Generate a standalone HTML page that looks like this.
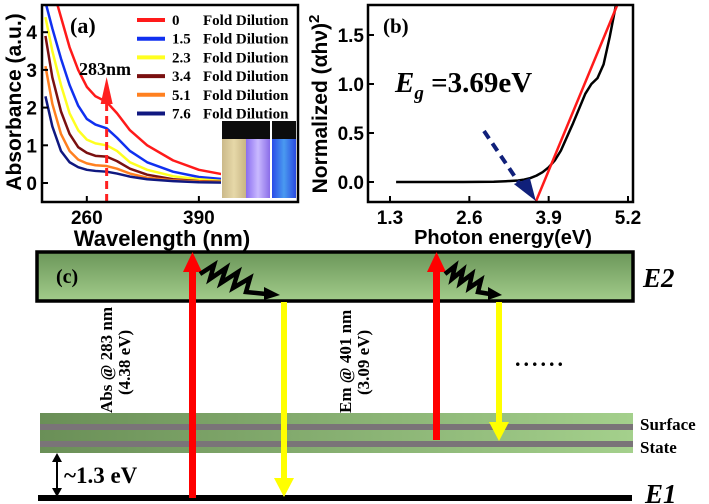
<!DOCTYPE html>
<html><head><meta charset="utf-8"><style>
body{margin:0;background:#fff;}
svg{display:block;font-family:"Liberation Sans",sans-serif;}
.serif{font-family:"Liberation Serif",serif;font-weight:bold;}
</style></head><body>
<svg id="fig" width="709" height="504" viewBox="0 0 709 504">
<defs>
<linearGradient id="gE2" x1="0" y1="0" x2="0" y2="1"><stop offset="0" stop-color="#6b9659"/><stop offset="1" stop-color="#a2cc8a"/></linearGradient>
<linearGradient id="gS" x1="0" y1="0" x2="1" y2="0"><stop offset="0" stop-color="#6a8f57"/><stop offset="1" stop-color="#a4d08c"/></linearGradient>
<linearGradient id="v1" x1="0" y1="0" x2="1" y2="0"><stop offset="0" stop-color="#cbb98a"/><stop offset="0.5" stop-color="#e6d8a8"/><stop offset="1" stop-color="#c8b585"/></linearGradient>
<linearGradient id="v2" x1="0" y1="0" x2="1" y2="0"><stop offset="0" stop-color="#8a6df0"/><stop offset="0.5" stop-color="#c9b9ff"/><stop offset="1" stop-color="#8a6de8"/></linearGradient>
<linearGradient id="v3" x1="0" y1="0" x2="1" y2="0"><stop offset="0" stop-color="#2a4be8"/><stop offset="0.5" stop-color="#4a9af0"/><stop offset="1" stop-color="#2a4ae0"/></linearGradient>
<clipPath id="clipA"><rect x="42" y="5" width="256" height="197"/></clipPath>
<clipPath id="clipB"><rect x="368" y="5" width="265" height="197"/></clipPath>
</defs>
<g id="panelA"></g>
<g id="panelB"></g>
<g id="panelC">
  <rect x="37" y="252" width="596" height="49" fill="url(#gE2)" stroke="#000" stroke-width="3.5"/>
  <text x="56" y="283" class="serif" font-size="20">(c)</text>
  <text x="643" y="287" class="serif" font-size="27" font-style="italic">E2</text>
  <rect x="40" y="413" width="593" height="40" fill="url(#gS)"/>
  <rect x="40" y="424" width="593" height="6" fill="#7a7478"/>
  <rect x="40" y="441" width="593" height="6" fill="#7a7478"/>
  <text x="640" y="430" class="serif" font-size="17">Surface</text>
  <text x="640" y="453" class="serif" font-size="17">State</text>
  <rect x="38" y="495" width="594" height="6" fill="#000"/>
  <text x="645" y="503" class="serif" font-size="27" font-style="italic">E1</text>
  <g>
    <line x1="57" y1="460" x2="57" y2="490" stroke="#000" stroke-width="2"/>
    <polygon points="52,462 62,462 57,453" fill="#000"/><polygon points="52,488 62,488 57,497" fill="#000"/>
  </g>
  <text x="64" y="483" class="serif" font-size="23">~1.3  eV</text>
  <g><rect x="189" y="270" width="7" height="228" fill="#ff0000"/><polygon points="183,272 202,272 192.5,252" fill="#ff0000"/></g>
  <g><rect x="433" y="270" width="7" height="170" fill="#ff0000"/><polygon points="427,272 446,272 436.5,252" fill="#ff0000"/></g>
  <g><rect x="281" y="302" width="6" height="178" fill="#ffff00"/><polygon points="274,478 294,478 284,497" fill="#ffff00"/></g>
  <g><rect x="496" y="302" width="6" height="122" fill="#ffff00"/><polygon points="489,422 509,422 499,441" fill="#ffff00"/></g>
  <g>
    <polyline points="200,274 214,265 210,279 226,268 221,283 238,272 233,288 250,278 246,292 266,294" fill="none" stroke="#000" stroke-width="4.5"/>
    <polygon points="264,287 280,295 264,300" fill="#000"/></g>
  <g>
    <polyline points="445,274 455,266 452,279 463,270 460,283 472,274 469,288 481,280 478,292 490,294" fill="none" stroke="#000" stroke-width="4.5"/>
    <polygon points="488,287 502,295 488,300" fill="#000"/></g>
  <text transform="translate(112,413) rotate(-90)" class="serif" font-size="17">Abs @ 283 nm</text>
  <text transform="translate(130,395) rotate(-90)" class="serif" font-size="17">(4.38 eV)</text>
  <text transform="translate(351,413) rotate(-90)" class="serif" font-size="17">Em @ 401 nm</text>
  <text transform="translate(369,395) rotate(-90)" class="serif" font-size="17">(3.09 eV)</text>
  <text x="515" y="366" class="serif" font-size="22" letter-spacing="3">......</text>
</g>
</svg>
<script>
// ---- Panel (a) data ----
const wavelengths = [212,220,230,240,250,260,270,283,295,310,330,360,390,420,460,500];
const absRed    = [6.0,5.2,4.4,3.6,3.0,2.55,2.3,2.15,1.85,1.4,1.0,0.6,0.35,0.22,0.12,0.08];
const absBlue   = [4.8,4.1,3.3,2.6,2.05,1.7,1.55,1.45,1.2,0.85,0.55,0.3,0.16,0.1,0.05,0.03];
const absYellow = [4.4,3.5,2.6,1.85,1.4,1.15,1.05,1.0,0.85,0.55,0.35,0.18,0.1,0.05,0.03,0.02];
const absBrown  = [3.9,2.8,1.9,1.3,0.95,0.8,0.72,0.7,0.58,0.38,0.22,0.1,0.05,0.03,0.02,0.01];
const absOrange = [3.1,2.1,1.3,0.85,0.62,0.52,0.47,0.45,0.38,0.25,0.14,0.07,0.04,0.02,0.01,0.01];
const absNavy   = [2.3,1.5,0.85,0.55,0.42,0.35,0.32,0.3,0.25,0.17,0.1,0.05,0.02,0.01,0.0,0.0];
const dilutionLabels = ["0","1.5","2.3","3.4","5.1","7.6"];
const aXTicks = [260,390];
const aYTicks = [0,1,2,3,4];
const peakWavelength = 283;
// ---- Panel (b) data ----
const energies = [1.4,2.0,2.5,3.0,3.2,3.4,3.5,3.6,3.7,3.8,3.9,4.0,4.1,4.3,4.5,4.6,4.7,4.8,4.9,5.0];
const tauc     = [0,0,0,0.003,0.008,0.015,0.025,0.04,0.065,0.1,0.15,0.22,0.32,0.6,0.9,1.0,1.06,1.2,1.48,1.8];
const fitLine  = [[3.69,-0.2],[5.02,1.8]];
const bXTicks = [1.3,2.6,3.9,5.2];
const bYTicks = [0.0,0.5,1.0,1.5];
const bandGap = 3.69;

const NS="http://www.w3.org/2000/svg";
function mk(tag,attrs,parent){const e=document.createElementNS(NS,tag);for(const k in attrs)e.setAttribute(k,attrs[k]);parent.appendChild(e);return e;}

const ax=w=>42+(w-208)*(256/297);
const ay=v=>183-v*37.7;
const A=document.getElementById('panelA');
const seriesA=[absRed,absBlue,absYellow,absBrown,absOrange,absNavy];
const colorsA=["#ff1a1a","#1030f0","#ffff20","#7a1010","#ff8020","#101880"];
const gA=mk('g',{'clip-path':'url(#clipA)'},A);
seriesA.forEach((s,i)=>{
  const p=mk('polyline',{points:s.map((v,j)=>ax(wavelengths[j])+','+ay(v)).join(' '),fill:'none',stroke:colorsA[i],'stroke-width':2.5,'stroke-linejoin':'round'},gA);
  
  
});
const pk=mk('line',{x1:ax(peakWavelength),y1:202,x2:ax(peakWavelength),y2:100,stroke:'#ff2020','stroke-width':3,'stroke-dasharray':'8,5'},A);


const ph=mk('polygon',{points:`${ax(peakWavelength)-6},104 ${ax(peakWavelength)+6},104 ${ax(peakWavelength)},77`,fill:'#ff2020'},A);


const pt=mk('text',{x:79,y:75,class:'serif','font-size':18},A);pt.textContent=peakWavelength+'nm';


const inset=mk('g',{},A);


mk('rect',{x:221,y:121,width:76,height:78,fill:'#fff'},inset);
[['url(#v1)',222],['url(#v2)',246],['url(#v3)',272]].forEach(([f,x])=>{
  mk('rect',{x:x,y:121,width:24,height:77,fill:f},inset);
  mk('rect',{x:x,y:121,width:24,height:18,fill:'#0c0c0c'},inset);
});
const bA=mk('rect',{x:42,y:5,width:256,height:197,fill:'none',stroke:'#000','stroke-width':2.5},A);


aXTicks.forEach(t=>{
  mk('line',{x1:ax(t),y1:202,x2:ax(t),y2:196,stroke:'#000','stroke-width':2},A);
  const tx=mk('text',{x:ax(t),y:224,'text-anchor':'middle','font-size':19,'font-weight':'bold'},A);tx.textContent=t;
  
  
});
aYTicks.forEach(t=>{
  mk('line',{x1:42,y1:ay(t),x2:48,y2:ay(t),stroke:'#000','stroke-width':2},A);
  const tx=mk('text',{x:37,y:ay(t)+7,'text-anchor':'end','font-size':19,'font-weight':'bold'},A);tx.textContent=t;
  
  
});
const xtA=mk('text',{x:162,y:246,'text-anchor':'middle','font-size':22,'font-weight':'bold'},A);xtA.textContent='Wavelength (nm)';


const ytA=mk('text',{transform:'translate(21,102) rotate(-90)','text-anchor':'middle','font-size':21,'font-weight':'bold'},A);ytA.textContent='Absorbance (a.u.)';


const la=mk('text',{x:70,y:33,class:'serif','font-size':22},A);la.textContent='(a)';


dilutionLabels.forEach((l,i)=>{
  const y=20+i*18.7;
  const g=mk('g',{},A);
  
  
  mk('line',{x1:137,y1:y,x2:165,y2:y,stroke:colorsA[i],'stroke-width':4},g);
  const t1=mk('text',{x:172,y:y+5,class:'serif','font-size':15},g);t1.textContent=l;
  const t2=mk('text',{x:203,y:y+5,class:'serif','font-size':15},g);t2.textContent='Fold Dilution';
});

const bx=e=>390+(e-1.3)*(238/3.9);
const by=v=>182-v*98;
const B=document.getElementById('panelB');
const gB=mk('g',{'clip-path':'url(#clipB)'},B);
const tc=mk('polyline',{points:tauc.map((v,i)=>bx(energies[i])+','+by(v)).join(' '),fill:'none',stroke:'#000','stroke-width':2.5,'stroke-linejoin':'round'},gB);


const fl=mk('line',{x1:bx(fitLine[0][0]),y1:by(fitLine[0][1]),x2:bx(fitLine[1][0]),y2:by(fitLine[1][1]),stroke:'#ff1a1a','stroke-width':2.5},gB);


const gx=bx(bandGap);
const da=mk('line',{x1:484,y1:131,x2:gx-14,y2:187,stroke:'#10207a','stroke-width':4,'stroke-dasharray':'9,6'},B);


const dh=mk('polygon',{points:`${gx-22},184 ${gx-6},178 ${gx},201`,fill:'#10207a'},B);


const bB=mk('rect',{x:368,y:5,width:265,height:197,fill:'none',stroke:'#000','stroke-width':2.5},B);


bXTicks.forEach(t=>{
  mk('line',{x1:bx(t),y1:202,x2:bx(t),y2:196,stroke:'#000','stroke-width':2},B);
  const tx=mk('text',{x:bx(t),y:224,'text-anchor':'middle','font-size':19,'font-weight':'bold'},B);tx.textContent=t.toFixed(1);
  
  
});
bYTicks.forEach(t=>{
  mk('line',{x1:368,y1:by(t),x2:374,y2:by(t),stroke:'#000','stroke-width':2},B);
  const tx=mk('text',{x:364,y:by(t)+7,'text-anchor':'end','font-size':19,'font-weight':'bold'},B);tx.textContent=t.toFixed(1);
  
  
});
const xtB=mk('text',{x:503,y:244,'text-anchor':'middle','font-size':20,'font-weight':'bold'},B);xtB.textContent='Photon energy(eV)';


const ytB=mk('text',{transform:'translate(327,104) rotate(-90)','text-anchor':'middle','font-size':21,'font-weight':'bold'},B);ytB.innerHTML='Normalized (αhν)<tspan dy="-8" font-size="15">2</tspan>';


const lb=mk('text',{x:383,y:33,class:'serif','font-size':21},B);lb.textContent='(b)';


const eg=mk('text',{x:395,y:92,class:'serif','font-size':29},B);
eg.innerHTML='<tspan font-style="italic">E</tspan><tspan font-style="italic" font-size="19" dy="7">g</tspan><tspan dy="-7"> =3.69eV</tspan>';


</script>
</body></html>
